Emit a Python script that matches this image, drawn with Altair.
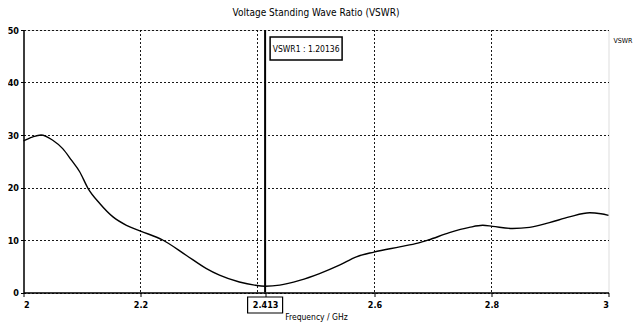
import altair as alt
import pandas as pd

# ---- data ----
freq = [2.0, 2.015, 2.03, 2.05, 2.067, 2.082, 2.096, 2.11, 2.13, 2.153, 2.176, 2.2,
        2.238, 2.278, 2.312, 2.335, 2.369, 2.395, 2.413, 2.438, 2.472, 2.506, 2.54,
        2.569, 2.599, 2.643, 2.674, 2.692, 2.728, 2.762, 2.785, 2.802, 2.836, 2.865,
        2.899, 2.933, 2.968, 2.987, 3.0]
vswr = [28.9, 29.6, 30.0, 29.0, 27.4, 25.2, 23.0, 19.9, 17.0, 14.4, 12.8, 11.7,
        10.0, 7.1, 4.6, 3.3, 2.0, 1.4, 1.2, 1.4, 2.3, 3.6, 5.2,
        6.8, 7.7, 8.7, 9.4, 10.0, 11.4, 12.4, 12.8, 12.6, 12.2, 12.4,
        13.3, 14.4, 15.2, 15.0, 14.7]
series_name = ["VSWR"]
grid_x = [2.2, 2.4, 2.6, 2.8]
x_ticks = [2, 2.2, 2.413, 2.6, 2.8, 3]
y_ticks = [0, 10, 20, 30, 40, 50]
marker_f = [2.413]
marker_label = ["VSWR1 : 1.20136"]

FONT = "DejaVu Sans Condensed, Liberation Sans Narrow, DejaVu Sans, sans-serif"

df = pd.DataFrame({"f": freq, "v": vswr, "s": series_name * len(freq)})
gx = pd.DataFrame({"f": grid_x})
mk = pd.DataFrame({"f": marker_f, "label": marker_label})

xs = alt.Scale(domain=[2, 3], nice=False, zero=False)
ys = alt.Scale(domain=[0, 50], nice=False)

line = alt.Chart(df).mark_line(color="black", strokeWidth=1.4, interpolate="monotone").encode(
    x=alt.X("f:Q", scale=xs, axis=alt.Axis(
        values=x_ticks, labelExpr="'' + datum.value", title="Frequency / GHz", grid=False,
        tickSize=4, tickColor="black", domainColor="black", domainWidth=1.5,
        labelFont=FONT, labelFontSize=9, labelColor="black", labelPadding=4,
        labelFontWeight="bold",
        titleFont=FONT, titleFontSize=8.5, titleFontWeight="normal", titleColor="black",
        titlePadding=3)),
    y=alt.Y("v:Q", scale=ys, axis=alt.Axis(
        values=y_ticks, title=None, grid=True, gridDash=[2, 2], gridColor="black",
        gridOpacity=0.9, tickSize=3, tickColor="black", domainColor="black", domainWidth=1.5,
        labelFont=FONT, labelFontSize=9, labelColor="black", labelPadding=2,
        labelFontWeight="bold")),
    color=alt.Color("s:N", scale=alt.Scale(range=["black"]), legend=alt.Legend(
        title=None, orient="none", legendX=583, legendY=7, symbolOpacity=0, symbolSize=1,
        labelFont=FONT, labelFontSize=7, labelColor="black", padding=0, labelOffset=0)),
)

vgrid = alt.Chart(gx).mark_rule(color="black", strokeDash=[2, 2], strokeWidth=1, opacity=0.9).encode(
    x=alt.X("f:Q", scale=xs))

marker_rule = alt.Chart(mk).mark_rule(color="black", strokeWidth=2).encode(
    x=alt.X("f:Q", scale=xs))

box_shape = "M0.0625,-0.144L0.9625,-0.144L0.9625,0.144L0.0625,0.144Z"
marker_box = alt.Chart(mk).mark_point(
    shape=box_shape, size=25600, filled=True, fill="white", stroke="black",
    strokeWidth=1.5, opacity=1).encode(
    x=alt.X("f:Q", scale=xs), y=alt.value(18.5))

marker_text = alt.Chart(mk).mark_text(
    font=FONT, fontSize=8.5, color="black", align="center", baseline="middle", dx=41).encode(
    x=alt.X("f:Q", scale=xs), y=alt.value(18.5), text="label:N")

tick_shape = "M-0.875,-0.4L0.875,-0.4L0.875,0.4L-0.875,0.4Z"
tick_box = alt.Chart(mk).mark_point(
    shape=tick_shape, size=1600, filled=False, stroke="black", strokeWidth=1.2, opacity=1).encode(
    x=alt.X("f:Q", scale=xs), y=alt.value(275))

chart = alt.layer(vgrid, line, marker_rule, marker_box, marker_text, tick_box).properties(
    width=585, height=262.5,
    title=alt.TitleParams("Voltage Standing Wave Ratio (VSWR)", font=FONT, fontSize=10,
                          fontWeight="normal", color="black", offset=8),
    autosize=alt.AutoSizeParams(type="none"),
    padding={"left": 15.5, "top": 22, "right": 26.5, "bottom": 33},
).configure_view(stroke="black", strokeWidth=1).configure(background="white")

chart.save("out.html", embed_options={"renderer": "svg", "actions": False})
